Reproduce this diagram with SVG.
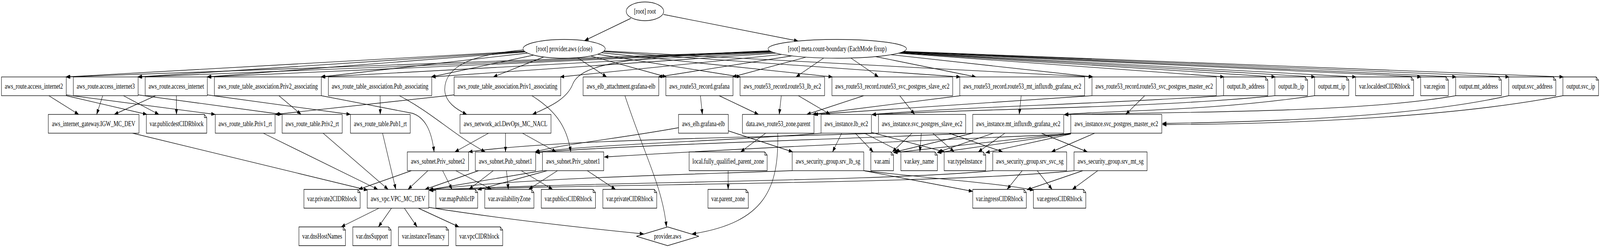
<svg xmlns="http://www.w3.org/2000/svg" width="5433" height="635" viewBox="0 0 5433 635" preserveAspectRatio="none">
<defs>
<marker id="a" markerWidth="14" markerHeight="10" viewBox="0 0 14 10" refX="13.5" refY="5" orient="auto" markerUnits="userSpaceOnUse"><path d="M0,0 L14,5 L0,10 Z" fill="#000"/></marker>
<style>
svg{width:100vw;height:100vh}
.e{fill:none;stroke:#000;stroke-width:1.33;marker-end:url(#a)}
.n rect,.n path,.n ellipse,.n polygon{fill:#fff;stroke:#000;stroke-width:1.33}
.n text{font-family:"Liberation Serif","Times New Roman",serif;font-size:18px;text-anchor:middle;fill:#000}
</style>
</defs>
<rect width="5433" height="635" fill="#fff"/>
<g id="edges">
<path class="e" d="M2142,47 L1985,104"/>
<path class="e" d="M2253,37 L2710,105"/>
<path class="e" d="M1779,131 L223,197"/>
<path class="e" d="M1780.5,132 L467,197"/>
<path class="e" d="M1783,133 L702,197"/>
<path class="e" d="M1790,136 L1089,197"/>
<path class="e" d="M1812.5,141 L1464,197"/>
<path class="e" d="M1846,146 L1675,197"/>
<path class="e" d="M1961,148 L2060,197"/>
<path class="e" d="M2004,143 L2263,197"/>
<path class="e" d="M2030,139 L2515,197"/>
<path class="e" d="M2042,135 L2827,197"/>
<path class="e" d="M2049,132 L3261,197"/>
<path class="e" d="M2051,130.5 L3710,197"/>
<path class="e" d="M1777,128 C1600,140 1510,170 1510,230 C1512,262 1550,280 1585,293"/>
<path class="e" d="M2616,131 L225,197"/>
<path class="e" d="M2618,132 L469,197"/>
<path class="e" d="M2620,132.5 L704,197"/>
<path class="e" d="M2625.5,134 L1091,197"/>
<path class="e" d="M2634,136 L1466,197"/>
<path class="e" d="M2655,139.4 L1902,197"/>
<path class="e" d="M2689.5,143 L2235,197"/>
<path class="e" d="M2737,146.4 L2487,197"/>
<path class="e" d="M2797,148.5 L2703,197"/>
<path class="e" d="M2889,148.5 L2983,197"/>
<path class="e" d="M2973.5,145 L3314,197"/>
<path class="e" d="M3025,140 L3712,197"/>
<path class="e" d="M3050,136 L4157,197"/>
<path class="e" d="M3055.6,135.3 L4331,197"/>
<path class="e" d="M3058.5,134.6 L4466,197"/>
<path class="e" d="M3061,134 L4605,197"/>
<path class="e" d="M3064,133 L4826,197"/>
<path class="e" d="M3066,132.6 L4945,197"/>
<path class="e" d="M3067.6,132 L5125,197"/>
<path class="e" d="M3069,131.6 L5309,197"/>
<path class="e" d="M2612,130 C2150,145 1975,160 1945,215 C1925,255 1860,275 1808,293"/>
<path class="e" d="M165.75,245 L267.25,293"/>
<path class="e" d="M225,245 L499,293"/>
<path class="e" d="M225,243 L731,293"/>
<path class="e" d="M348.75,245 L328.25,293"/>
<path class="e" d="M419,245 L539.5,293"/>
<path class="e" d="M469,243 L958,293"/>
<path class="e" d="M528.4,245 L388,293"/>
<path class="e" d="M598.75,245 L599.25,293"/>
<path class="e" d="M704,243 L1190,293"/>
<path class="e" d="M947,245 L1022.4,293"/>
<path class="e" d="M1290.75,245 L1291.25,293"/>
<path class="e" d="M1542,243 L934,293"/>
<path class="e" d="M1091,245 L1400,290 C1440,300 1465,330 1474,389"/>
<path class="e" d="M1356,245 C1470,290 1540,345 1648,389"/>
<path class="e" d="M1806,245 C1880,280 1925,320 1938,389"/>
<path class="e" d="M2122,245 C2190,400 2250,480 2263,581"/>
<path class="e" d="M2378.4,245 L2385,293"/>
<path class="e" d="M2442,245 L2575.6,293"/>
<path class="e" d="M2653,245 L2646,293"/>
<path class="e" d="M2710.75,245 L2819.25,293"/>
<path class="e" d="M2933,245 L2739.4,293"/>
<path class="e" d="M3055.25,245 L3105.75,293"/>
<path class="e" d="M3262,245 L2758,293"/>
<path class="e" d="M3708,245 L2764,293"/>
<path class="e" d="M3467.6,245 L3460.9,293"/>
<path class="e" d="M3887,245 L3822.6,293"/>
<path class="e" d="M4155,245 C3700,268 3300,272 2961,293"/>
<path class="e" d="M4329,245 C3900,278 3300,278 2961,294"/>
<path class="e" d="M4464,245 C4100,285 3800,282 3614,293"/>
<path class="e" d="M4943,245 C4600,292 3900,286 3614,294"/>
<path class="e" d="M5123,245 C4800,300 4300,312 3947,316"/>
<path class="e" d="M5307,245 C4900,305 4300,318 3947,319"/>
<path class="e" d="M450,341 L1249,487"/>
<path class="e" d="M894,341 L1283,485"/>
<path class="e" d="M1097,341 L1318,485"/>
<path class="e" d="M1299,341 L1344,485"/>
<path class="e" d="M1659,341 L1544.4,389"/>
<path class="e" d="M1716.5,341 L1716.5,389"/>
<path class="e" d="M1774,341 L1888.6,389"/>
<path class="e" d="M2304,327 C2100,355 1900,370 1817,389"/>
<path class="e" d="M2473,335 L2692,389"/>
<path class="e" d="M2600,341 L2515,389"/>
<path class="e" d="M2641,341 C2645,480 2600,570 2350,599"/>
<path class="e" d="M2858,341 L2827,389"/>
<path class="e" d="M2904,341 L2965,389"/>
<path class="e" d="M2935,341 L3059,389"/>
<path class="e" d="M2959,339 L3208,389"/>
<path class="e" d="M2789,341 C2500,360 2000,370 1819,390"/>
<path class="e" d="M3097,341 L3030,389"/>
<path class="e" d="M3128.5,341 L3123.5,389"/>
<path class="e" d="M3167.4,341 L3240,389"/>
<path class="e" d="M3222.4,341 L3405,389"/>
<path class="e" d="M2983,341 C2600,352 1900,356 1591,389"/>
<path class="e" d="M3303,341 L3034,390"/>
<path class="e" d="M3373.4,341 L3183,390"/>
<path class="e" d="M3412.25,341 L3321.75,389"/>
<path class="e" d="M3536,341 L3692.6,389"/>
<path class="e" d="M3303,341 C2800,358 2100,372 1819,391"/>
<path class="e" d="M3636,341 L3034,391"/>
<path class="e" d="M3636,342 L3183,391"/>
<path class="e" d="M3636,343 L3347,391"/>
<path class="e" d="M3717,341 L3570,389"/>
<path class="e" d="M3636,343 C3200,358 2700,372 2052,402"/>
<path class="e" d="M1397,437 L1217.4,485"/>
<path class="e" d="M1453,437 L1385.4,485"/>
<path class="e" d="M1503,437 L1535,485"/>
<path class="e" d="M1547.6,437 L1669,485"/>
<path class="e" d="M1625,437 L1443,485"/>
<path class="e" d="M1675,437 L1592.4,485"/>
<path class="e" d="M1719.75,437 L1726.25,485"/>
<path class="e" d="M1770,437 L1876.6,485"/>
<path class="e" d="M1842,437 L1456,486"/>
<path class="e" d="M1858,437 L1622,486"/>
<path class="e" d="M1893,437 L1795,485"/>
<path class="e" d="M1994,437 L2090,485"/>
<path class="e" d="M2472.5,437 L2472.5,485"/>
<path class="e" d="M2690,437 C2300,448 1800,455 1458,486"/>
<path class="e" d="M2933,437 L3303,490"/>
<path class="e" d="M2933,437 C3200,460 3400,470 3511,487"/>
<path class="e" d="M3371,437 C3000,465 2000,465 1458,487"/>
<path class="e" d="M3471,437 L3419.6,485"/>
<path class="e" d="M3522,437 L3572.6,485"/>
<path class="e" d="M3677,437 L3487,486"/>
<path class="e" d="M3727.75,437 L3641.25,485"/>
<path class="e" d="M3647,437 C3200,472 2000,470 1458,488"/>
<path class="e" d="M1287,533 L1158.4,581"/>
<path class="e" d="M1329.4,533 L1285,581"/>
<path class="e" d="M1373,533 L1416.4,581"/>
<path class="e" d="M1420.5,533 L1558.5,581"/>
<path class="e" d="M1456,531 C1700,560 2000,585 2186,599"/>
</g>
<g id="root" class="n"><ellipse cx="2190" cy="29" rx="63.5" ry="24"/><text x="2190" y="35">[root] root</text></g>
<g id="provider_close" class="n"><ellipse cx="1915.5" cy="125" rx="139.5" ry="24"/><text x="1915.5" y="131">[root] provider.aws (close)</text></g>
<g id="meta_count_boundary" class="n"><ellipse cx="2843" cy="125" rx="235" ry="24"/><text x="2843" y="131">[root] meta.count-boundary (EachMode fixup)</text></g>
<g id="route_access_internet2" class="n"><rect x="5" y="197" width="220" height="48"/><text x="115" y="227">aws_route.access_internet2</text></g>
<g id="route_access_internet3" class="n"><rect x="249" y="197" width="220" height="48"/><text x="359" y="227">aws_route.access_internet3</text></g>
<g id="route_access_internet" class="n"><rect x="493" y="197" width="211" height="48"/><text x="598.5" y="227">aws_route.access_internet</text></g>
<g id="rta_priv2" class="n"><rect x="728" y="197" width="363" height="48"/><text x="909.5" y="227">aws_route_table_association.Priv2_associating</text></g>
<g id="rta_pub" class="n"><rect x="1115" y="197" width="351" height="48"/><text x="1290.5" y="227">aws_route_table_association.Pub_associating</text></g>
<g id="rta_priv1" class="n"><rect x="1542" y="197" width="362" height="48"/><text x="1723" y="227">aws_route_table_association.Priv1_associating</text></g>
<g id="elb_attachment" class="n"><rect x="1980" y="197" width="257" height="48"/><text x="2108.5" y="227">aws_elb_attachment.grafana-elb</text></g>
<g id="r53_grafana" class="n"><rect x="2261" y="197" width="228" height="48"/><text x="2375" y="227">aws_route53_record.grafana</text></g>
<g id="r53_lb" class="n"><rect x="2513" y="197" width="287" height="48"/><text x="2656.5" y="227">aws_route53_record.route53_lb_ec2</text></g>
<g id="r53_slave" class="n"><rect x="2825" y="197" width="410" height="48"/><text x="3030" y="227">aws_route53_record.route53_svc_postgres_slave_ec2</text></g>
<g id="r53_mt" class="n"><rect x="3259" y="197" width="424" height="48"/><text x="3471" y="227">aws_route53_record.route53_mt_influxdb_grafana_ec2</text></g>
<g id="r53_master" class="n"><rect x="3708" y="197" width="422" height="48"/><text x="3919" y="227">aws_route53_record.route53_svc_postgres_master_ec2</text></g>
<g id="out_lb_address" class="n"><path d="M4155,197 H4297 L4305,205 V245 H4155 Z M4297,197 V205 H4305"/><text x="4230" y="227">output.lb_address</text></g>
<g id="out_lb_ip" class="n"><path d="M4329,197 H4432 L4440,205 V245 H4329 Z M4432,197 V205 H4440"/><text x="4384.5" y="227">output.lb_ip</text></g>
<g id="out_mt_ip" class="n"><path d="M4464,197 H4572 L4580,205 V245 H4464 Z M4572,197 V205 H4580"/><text x="4522" y="227">output.mt_ip</text></g>
<g id="var_localdest" class="n"><path d="M4603,197 H4792 L4800,205 V245 H4603 Z M4792,197 V205 H4800"/><text x="4701.5" y="227">var.localdestCIDRblock</text></g>
<g id="var_region" class="n"><path d="M4824,197 H4910 L4918,205 V245 H4824 Z M4910,197 V205 H4918"/><text x="4871" y="227">var.region</text></g>
<g id="out_mt_address" class="n"><path d="M4943,197 H5090 L5098,205 V245 H4943 Z M5090,197 V205 H5098"/><text x="5020.5" y="227">output.mt_address</text></g>
<g id="out_svc_address" class="n"><path d="M5123,197 H5275 L5283,205 V245 H5123 Z M5275,197 V205 H5283"/><text x="5203" y="227">output.svc_address</text></g>
<g id="out_svc_ip" class="n"><path d="M5307,197 H5420 L5428,205 V245 H5307 Z M5420,197 V205 H5428"/><text x="5367.5" y="227">output.svc_ip</text></g>
<g id="igw" class="n"><rect x="164" y="293" width="308" height="48"/><text x="318" y="323">aws_internet_gateway.IGW_MC_DEV</text></g>
<g id="var_publicdest" class="n"><path d="M497,293 H694 L702,301 V341 H497 Z M694,293 V301 H702"/><text x="599.5" y="323">var.publicdestCIDRblock</text></g>
<g id="rt_priv1" class="n"><rect x="731" y="293" width="203" height="48"/><text x="832.5" y="323">aws_route_table.Priv1_rt</text></g>
<g id="rt_priv2" class="n"><rect x="958" y="293" width="204" height="48"/><text x="1060" y="323">aws_route_table.Priv2_rt</text></g>
<g id="rt_pub1" class="n"><rect x="1190" y="293" width="203" height="48"/><text x="1291.5" y="323">aws_route_table.Pub1_rt</text></g>
<g id="nacl" class="n"><rect x="1562" y="293" width="309" height="48"/><text x="1716.5" y="323">aws_network_acl.DevOps_MC_NACL</text></g>
<g id="elb" class="n"><rect x="2304" y="293" width="169" height="48"/><text x="2388.5" y="323">aws_elb.grafana-elb</text></g>
<g id="data_zone" class="n"><rect x="2521" y="293" width="243" height="48"/><text x="2642.5" y="323">data.aws_route53_zone.parent</text></g>
<g id="inst_lb" class="n"><rect x="2788" y="293" width="171" height="48"/><text x="2873.5" y="323">aws_instance.lb_ec2</text></g>
<g id="inst_slave" class="n"><rect x="2983" y="293" width="296" height="48"/><text x="3131" y="323">aws_instance.svc_postgres_slave_ec2</text></g>
<g id="inst_mt" class="n"><rect x="3303" y="293" width="309" height="48"/><text x="3457.5" y="323">aws_instance.mt_influxdb_grafana_ec2</text></g>
<g id="inst_master" class="n"><rect x="3636" y="293" width="309" height="48"/><text x="3790.5" y="323">aws_instance.svc_postgres_master_ec2</text></g>
<g id="sub_priv2" class="n"><rect x="1383" y="389" width="208" height="48"/><text x="1487" y="419">aws_subnet.Priv_subnet2</text></g>
<g id="sub_pub1" class="n"><rect x="1614" y="389" width="205" height="48"/><text x="1716.5" y="419">aws_subnet.Pub_subnet1</text></g>
<g id="sub_priv1" class="n"><rect x="1842" y="389" width="208" height="48"/><text x="1946" y="419">aws_subnet.Priv_subnet1</text></g>
<g id="local_fq" class="n"><path d="M2340,389 H2597 L2605,397 V437 H2340 Z M2597,389 V397 H2605"/><text x="2472.5" y="419">local.fully_qualified_parent_zone</text></g>
<g id="sg_lb" class="n"><rect x="2690" y="389" width="243" height="48"/><text x="2811.5" y="419">aws_security_group.srv_lb_sg</text></g>
<g id="var_ami" class="n"><path d="M2957,389 H3026 L3034,397 V437 H2957 Z M3026,389 V397 H3034"/><text x="2995.5" y="419">var.ami</text></g>
<g id="var_key" class="n"><path d="M3059,389 H3175 L3183,397 V437 H3059 Z M3175,389 V397 H3183"/><text x="3121" y="419">var.key_name</text></g>
<g id="var_type" class="n"><path d="M3206,389 H3339 L3347,397 V437 H3206 Z M3339,389 V397 H3347"/><text x="3276.5" y="419">var.typeInstance</text></g>
<g id="sg_svc" class="n"><rect x="3371" y="389" width="251" height="48"/><text x="3496.5" y="419">aws_security_group.srv_svc_sg</text></g>
<g id="sg_mt" class="n"><rect x="3647" y="389" width="248" height="48"/><text x="3771" y="419">aws_security_group.srv_mt_sg</text></g>
<g id="var_private2cidr" class="n"><path d="M1032,485 H1215 L1223,493 V533 H1032 Z M1215,485 V493 H1223"/><text x="1127.5" y="515">var.private2CIDRblock</text></g>
<g id="vpc" class="n"><rect x="1247" y="485" width="209" height="48"/><text x="1351.5" y="515">aws_vpc.VPC_MC_DEV</text></g>
<g id="var_mappublicip" class="n"><path d="M1480,485 H1614 L1622,493 V533 H1480 Z M1614,485 V493 H1622"/><text x="1551" y="515">var.mapPublicIP</text></g>
<g id="var_az" class="n"><path d="M1646,485 H1805 L1813,493 V533 H1646 Z M1805,485 V493 H1813"/><text x="1729.5" y="515">var.availabilityZone</text></g>
<g id="var_publicscidr" class="n"><path d="M1838,485 H2014 L2022,493 V533 H1838 Z M2014,485 V493 H2022"/><text x="1930" y="515">var.publicsCIDRblock</text></g>
<g id="var_privatecidr" class="n"><path d="M2047,485 H2222 L2230,493 V533 H2047 Z M2222,485 V493 H2230"/><text x="2138.5" y="515">var.privateCIDRblock</text></g>
<g id="var_parent_zone" class="n"><path d="M2404,485 H2533 L2541,493 V533 H2404 Z M2533,485 V493 H2541"/><text x="2472.5" y="515">var.parent_zone</text></g>
<g id="var_ingress" class="n"><path d="M3303,485 H3477 L3485,493 V533 H3303 Z M3477,485 V493 H3485"/><text x="3394" y="515">var.ingressCIDRblock</text></g>
<g id="var_egress" class="n"><path d="M3509,485 H3679 L3687,493 V533 H3509 Z M3679,485 V493 H3687"/><text x="3598" y="515">var.egressCIDRblock</text></g>
<g id="var_dnshostnames" class="n"><path d="M1015,581 H1165 L1173,589 V629 H1015 Z M1165,581 V589 H1173"/><text x="1094" y="611">var.dnsHostNames</text></g>
<g id="var_dnssupport" class="n"><path d="M1198,581 H1320 L1328,589 V629 H1198 Z M1320,581 V589 H1328"/><text x="1263" y="611">var.dnsSupport</text></g>
<g id="var_tenancy" class="n"><path d="M1353,581 H1515 L1523,589 V629 H1353 Z M1515,581 V589 H1523"/><text x="1438" y="611">var.instanceTenancy</text></g>
<g id="var_vpccidr" class="n"><path d="M1548,581 H1699 L1707,589 V629 H1548 Z M1699,581 V589 H1707"/><text x="1627.5" y="611">var.vpcCIDRblock</text></g>
<g id="provider_aws" class="n"><polygon points="2267,581 2373,605 2267,629 2161,605"/><text x="2267" y="611">provider.aws</text></g>
</svg>
